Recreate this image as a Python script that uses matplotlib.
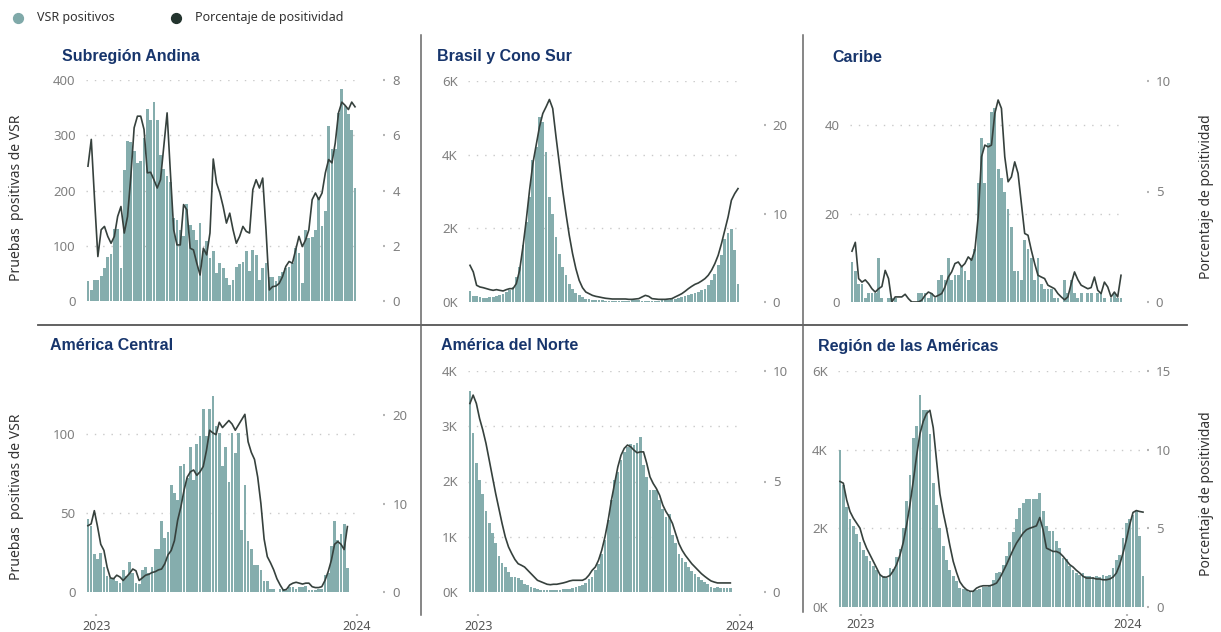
import matplotlib.pyplot as plt
import numpy as np

plt.rcParams['font.family'] = ['Noto Sans', 'DejaVu Sans']

# weekly RSV positives (bars) and percent positivity (line) per subregion
andina_pos = [36, 20, 38, 38, 45, 59, 79, 85, 130, 130,
              59, 237, 290, 288, 272, 250, 253, 295, 347, 328,
              360, 328, 265, 239, 227, 215, 150, 147, 129, 117,
              175, 138, 129, 111, 142, 90, 108, 77, 90, 50,
              68, 59, 41, 29, 38, 61, 67, 70, 90, 55,
              92, 83, 38, 60, 68, 43, 43, 36, 45, 53,
              59, 62, 68, 96, 87, 32, 129, 114, 116, 129,
              189, 136, 162, 316, 275, 275, 341, 383, 353, 338,
              310, 204]
andina_pct = [4.88, 5.85, 3.67, 1.61, 2.58, 2.70, 2.34, 2.09, 2.34, 3.06,
              3.42, 2.46, 3.06, 4.51, 6.27, 6.69, 6.69, 6.21, 4.64, 4.66,
              4.39, 4.09, 4.39, 5.60, 6.81, 4.64, 2.58, 2.03, 2.03, 3.49,
              3.30, 1.91, 1.85, 1.37, 0.94, 1.91, 1.67, 2.46, 5.14, 4.27,
              3.91, 3.42, 2.82, 3.18, 2.58, 2.09, 2.34, 2.70, 2.52, 2.46,
              4.03, 4.39, 4.09, 4.45, 2.58, 0.40, 0.52, 0.54, 0.64, 0.88,
              1.25, 1.43, 1.37, 1.85, 2.34, 1.97, 2.21, 2.58, 3.67, 3.91,
              3.67, 3.91, 4.64, 5.12, 5.00, 5.72, 6.81, 7.20, 7.08, 6.93,
              7.20, 7.03]

brasil_pos = [300, 160, 150, 140, 120, 110, 140, 140, 160, 180,
              230, 270, 320, 410, 680, 950, 1540, 2180, 2860, 3850,
              4200, 5010, 4890, 4080, 2860, 2400, 1770, 1310, 950, 730,
              500, 360, 240, 180, 140, 90, 70, 60, 60, 50,
              50, 40, 40, 40, 30, 30, 30, 40, 40, 50,
              60, 50, 40, 30, 30, 30, 40, 40, 50, 50,
              60, 70, 90, 120, 140, 150, 180, 210, 240, 280,
              320, 360, 450, 590, 770, 1000, 1270, 1720, 1860, 1990,
              1410, 500]
brasil_pct = [4.15, 3.40, 1.89, 1.70, 1.62, 1.51, 1.40, 1.32, 1.40, 1.32,
              1.25, 1.40, 1.51, 1.51, 2.08, 3.59, 6.23, 9.25, 12.64, 15.66,
              17.74, 19.81, 21.32, 22.08, 22.91, 21.89, 18.68, 15.66, 12.64, 10.00,
              7.55, 5.47, 3.77, 2.45, 1.62, 1.13, 0.94, 0.75, 0.64, 0.57,
              0.49, 0.42, 0.38, 0.34, 0.34, 0.34, 0.34, 0.34, 0.30, 0.30,
              0.34, 0.38, 0.57, 0.75, 0.64, 0.38, 0.34, 0.30, 0.30, 0.30,
              0.34, 0.38, 0.57, 0.75, 0.94, 1.21, 1.51, 1.77, 2.00, 2.15,
              2.38, 2.64, 3.02, 3.59, 4.34, 5.28, 6.60, 8.11, 9.62, 11.51,
              12.26, 12.83]

caribe_pos = [9, 7, 4, 4, 1, 2, 2, 2, 10, 1,
              0, 1, 1, 1, 0, 0, 0, 0, 0, 0,
              2, 2, 2, 1, 2, 1, 5, 6, 5, 10,
              5, 6, 6, 8, 7, 5, 10, 12, 27, 37,
              27, 36, 43, 44, 30, 28, 25, 21, 17, 7,
              7, 5, 14, 12, 10, 5, 10, 4, 3, 3,
              3, 1, 1, 0, 5, 2, 5, 2, 1, 2,
              0, 2, 2, 0, 2, 2, 1, 0, 1, 2,
              1, 1]
caribe_pct = [2.3, 2.7, 1.06, 0.9, 1.0, 0.83, 0.6, 0.45, 0.6, 0.7,
              1.43, 1.06, 0.0, 0.23, 0.23, 0.23, 0.35, 0.15, 0.0, 0.0,
              0.0, 0.08, 0.3, 0.45, 0.38, 0.23, 0.3, 0.38, 0.68, 1.13,
              1.36, 1.74, 1.81, 1.59, 1.74, 2.04, 1.89, 2.34, 3.85, 6.57,
              7.1, 7.02, 7.1, 8.53, 9.14, 8.76, 6.57, 5.44, 5.66, 6.34,
              5.82, 4.46, 3.1, 3.02, 2.34, 1.74, 1.21, 1.13, 1.06, 0.76,
              0.68, 0.6, 0.38, 0.23, 0.1, 0.23, 0.83, 1.36, 1.01, 0.76,
              0.68, 0.6, 0.65, 1.13, 0.53, 0.38, 0.9, 0.68, 0.23, 0.45,
              0.23, 1.21]

central_pos = [46, 42, 24, 21, 25, 16, 10, 9, 9, 7,
               6, 14, 10, 19, 12, 6, 5, 14, 16, 12,
               16, 27, 27, 45, 34, 38, 68, 63, 58, 80,
               81, 72, 92, 71, 94, 99, 116, 99, 116, 124,
               105, 101, 80, 92, 70, 101, 88, 101, 39, 68,
               32, 27, 17, 17, 14, 7, 7, 2, 2, 0,
               2, 2, 1, 3, 3, 2, 3, 3, 4, 1,
               1, 1, 2, 2, 11, 12, 29, 45, 33, 37,
               43, 15]
central_pct = [7.5, 7.7, 9.2, 7.4, 5.4, 4.7, 2.8, 1.6, 1.5, 1.9,
               1.7, 1.3, 1.7, 2.1, 2.6, 2.4, 1.3, 1.6, 1.9, 2.0,
               2.2, 2.3, 2.5, 2.6, 3.2, 4.2, 4.7, 5.8, 8.1, 9.6,
               11.5, 13.0, 13.6, 13.8, 13.2, 13.6, 14.2, 16.0, 18.3, 18.0,
               17.8, 19.2, 18.6, 19.0, 19.4, 19.0, 18.3, 18.9, 19.5, 20.1,
               17.0, 15.8, 15.0, 13.0, 10.0, 6.0, 4.0, 3.3, 2.5, 1.5,
               0.8, 0.2, 0.3, 0.8, 1.0, 1.1, 1.0, 0.9, 1.0, 1.0,
               0.6, 0.5, 0.5, 0.6, 1.3, 2.3, 3.6, 5.4, 5.7, 5.4,
               4.8, 7.4]

norte_pos = [3630, 2870, 2330, 2020, 1780, 1460, 1240, 1060, 880, 660,
             530, 450, 360, 280, 280, 260, 210, 150, 120, 90,
             80, 50, 40, 40, 40, 40, 40, 40, 40, 50,
             50, 60, 70, 90, 100, 130, 160, 240, 280, 400,
             510, 690, 940, 1300, 1660, 2020, 2180, 2390, 2540, 2630,
             2680, 2660, 2700, 2810, 2300, 2080, 1840, 1840, 1840, 1660,
             1510, 1350, 1420, 1030, 880, 690, 620, 540, 450, 380,
             330, 280, 220, 180, 140, 90, 80, 90, 80, 80,
             70, 70]
norte_pct = [8.53, 8.91, 8.53, 7.85, 7.33, 6.72, 5.97, 5.21, 4.46, 3.78,
             3.10, 2.49, 2.04, 1.74, 1.47, 1.28, 1.21, 1.13, 0.98, 0.83,
             0.68, 0.53, 0.47, 0.41, 0.35, 0.33, 0.35, 0.35, 0.38, 0.41,
             0.45, 0.50, 0.53, 0.53, 0.53, 0.53, 0.60, 0.76, 0.98, 1.13,
             1.44, 1.89, 2.49, 3.25, 4.15, 4.91, 5.66, 6.19, 6.50, 6.65,
             6.57, 6.42, 6.30, 6.34, 6.34, 5.82, 5.21, 4.91, 4.68, 4.38,
             3.93, 3.63, 3.40, 3.10, 2.64, 2.19, 1.89, 1.66, 1.47, 1.28,
             1.13, 0.98, 0.83, 0.71, 0.60, 0.50, 0.45, 0.41, 0.41, 0.41,
             0.41, 0.41]

region_pos = [4000, 3100, 2550, 2250, 2050, 1850, 1650, 1450, 1300, 1180,
              1050, 950, 850, 780, 750, 1000, 970, 1270, 1470, 2000,
              2700, 3350, 4300, 4600, 5400, 5000, 5000, 4400, 3150, 2600,
              2000, 1550, 1200, 950, 800, 650, 480, 460, 440, 370,
              400, 420, 460, 500, 520, 570, 690, 860, 880, 1070,
              1300, 1640, 1900, 2230, 2510, 2640, 2740, 2740, 2740, 2750,
              2910, 2430, 2050, 1920, 1920, 1670, 1500, 1240, 1220, 1030,
              950, 860, 820, 860, 800, 800, 760, 780, 760, 820,
              800, 820, 990, 1200, 1330, 1750, 2130, 2230, 2340, 2450,
              1800, 800]
region_pct = [7.98, 7.87, 6.81, 6.07, 5.65, 5.33, 5.01, 4.27, 3.74, 3.32,
              2.9, 2.48, 2.05, 1.9, 1.9, 2.0, 2.3, 2.7, 3.3, 4.1,
              5.2, 6.5, 8.0, 9.6, 11.0, 11.8, 12.3, 12.5, 11.4, 9.3,
              7.2, 6.0, 5.0, 3.9, 2.9, 2.2, 1.6, 1.3, 1.1, 1.0,
              1.0, 1.2, 1.3, 1.35, 1.35, 1.35, 1.42, 1.52, 1.84, 2.26,
              2.69, 3.17, 3.64, 4.06, 4.38, 4.7, 4.91, 5.01, 5.08, 5.16,
              5.69, 4.9, 3.74, 3.64, 3.53, 3.53, 3.43, 3.22, 2.96, 2.69,
              2.54, 2.33, 2.16, 1.95, 1.84, 1.84, 1.84, 1.78, 1.78, 1.73,
              1.73, 1.78, 1.9, 2.16, 2.69, 3.43, 4.27, 5.23, 6.01, 6.13,
              6.07, 6.03]

BAR = '#85adad'
LINE = '#36413d'
NAVY = '#17356c'
GRID = '#c9c9c9'
TICK = '#808080'

W, H = 1221, 632
fig = plt.figure(figsize=(W / 100, H / 100), dpi=100)


def px_axes(x0, y0, x1, y1):
    return fig.add_axes([x0 / W, 1 - y1 / H, (x1 - x0) / W, (y1 - y0) / H])


def panel(box, pos, pct, lmax, lticks, rmax, rticks, kfmt=False,
          rout=18, years=None, bout=16, xpad=3):
    ax = px_axes(*box)
    x = np.arange(len(pos))
    ax.bar(x, pos, width=0.84, color=BAR, linewidth=0, zorder=2)
    ax.set_xlim(-0.6, len(pos) - 0.4)
    ax.set_ylim(0, lmax)
    ax.set_yticks(lticks)
    ax.set_yticklabels([f'{v // 1000}K' if kfmt else f'{v}' for v in lticks])
    for v in lticks[1:]:
        ax.axhline(v, color=GRID, lw=1.0, ls=(0, (1, 5)), zorder=1)
    for s in ax.spines.values():
        s.set_visible(False)
    ax.tick_params(axis='y', length=0, pad=7.5, labelsize=9.5, labelcolor=TICK)
    if years:
        ax.set_xticks(years[0])
        ax.set_xticklabels(years[1])
        ax.spines['bottom'].set_position(('outward', bout))
        ax.tick_params(axis='x', length=1.5, width=1.5, color='#b5b5b5', pad=xpad,
                       labelsize=9, labelcolor='#555555')
    else:
        ax.set_xticks([])

    ax2 = ax.twinx()
    ax2.plot(x, pct, color=LINE, lw=1.2)
    ax2.set_ylim(0, rmax)
    ax2.set_yticks(rticks)
    ax2.set_yticklabels([f'{v}' for v in rticks])
    for s in ax2.spines.values():
        s.set_visible(False)
    ax2.spines['right'].set_position(('outward', rout))
    ax2.tick_params(axis='y', length=1.5, width=1.5, color='#b5b5b5', pad=5,
                    labelsize=9.5, labelcolor=TICK)
    return ax


panel((86, 80, 357, 301), andina_pos, andina_pct, 400, [0, 100, 200, 300, 400],
      8, [0, 2, 4, 6, 8], rout=19)
panel((468, 81, 740, 302), brasil_pos, brasil_pct, 6000, [0, 2000, 4000, 6000],
      25, [0, 10, 20], kfmt=True, rout=17)
panel((850, 81, 1123, 302), caribe_pos, caribe_pct, 50, [0, 20, 40],
      10, [0, 5, 10], rout=17)
panel((86, 371, 357, 592), central_pos, central_pct, 140, [0, 50, 100],
      25, [0, 10, 20], rout=19, years=([2.6, 84.0], ['2023', '2024']), bout=16)
panel((468, 371, 740, 592), norte_pos, norte_pct, 4000, [0, 1000, 2000, 3000, 4000],
      10, [0, 5, 10], kfmt=True, rout=17, years=([2.6, 84.0], ['2023', '2024']), bout=16)
panel((838, 371, 1145, 607), region_pos, region_pct, 6000, [0, 2000, 4000, 6000],
      15, [0, 5, 10, 15], kfmt=True, rout=1.5, years=([6.3, 86.3], ['2023', '2024']),
      bout=5, xpad=1.5)

# overlay in pixel coordinates for separators, titles and legend
ov = fig.add_axes([0, 0, 1, 1])
ov.set_xlim(0, W)
ov.set_ylim(H, 0)
ov.axis('off')
ov.patch.set_alpha(0)

ov.plot([38, 1187], [325, 325], color='#555555', lw=1.3)
ov.plot([421, 421], [35, 615], color='#666666', lw=1.1)
ov.plot([803, 803], [35, 612], color='#666666', lw=1.1)

ov.scatter([18], [18], s=50, color='#7fa9a9', zorder=3)
ov.scatter([176], [18], s=50, color='#23342e', zorder=3)
ov.text(37, 18, 'VSR positivos', fontsize=9, color='#333333', va='center')
ov.text(195, 18, 'Porcentaje de positividad', fontsize=9, color='#333333', va='center')

titles = [('Subregión Andina', 62, 56), ('Brasil y Cono Sur', 437, 57), ('Caribe', 832, 57),
          ('América Central', 50, 346), ('América del Norte', 441, 346),
          ('Región de las Américas', 818, 346)]
for t, tx, ty in titles:
    ov.text(tx, ty, t, fontsize=11.5, fontweight='bold', color=NAVY, va='center',
            family=['Liberation Sans', 'DejaVu Sans'])

for yc in (198, 497):
    ov.text(17, yc, 'Pruebas  positivas de VSR', fontsize=10, color='#333333',
            rotation=90, ha='center', va='center')
for yc in (197, 494):
    ov.text(1207, yc, 'Porcentaje de positividad', fontsize=10, color='#333333',
            rotation=90, ha='center', va='center')

fig.savefig('out.png', dpi=100)
